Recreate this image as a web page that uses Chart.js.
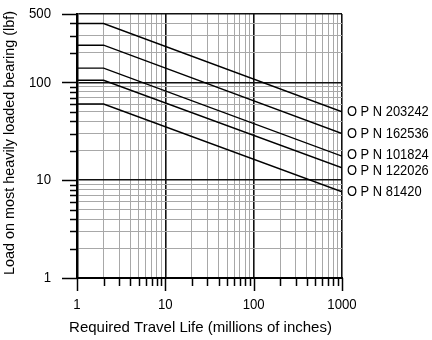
<!DOCTYPE html>
<html>
<head>
<meta charset="utf-8">
<script src="https://cdn.jsdelivr.net/npm/chart.js@4"></script>
<style>
  html, body { margin: 0; padding: 0; background: #fff; }
  #wrap { width: 432px; height: 340px; }
</style>
</head>
<body>
<div id="wrap"><canvas id="lifeChart" width="432" height="340"></canvas></div>
<script>
// travel life (millions of inches) where each curve bends
const lifeX = [1, 2, 1000];

// load (lbf) for each part number
const opn203242 = [400, 400, 50];
const opn162536 = [240, 240, 30];
const opn101824 = [140, 140, 17.6];
const opn122026 = [105, 105, 13.4];
const opn81420 = [60, 60, 7.6];

const seriesNames = ['O P N 203242', 'O P N 162536', 'O P N 101824', 'O P N 122026', 'O P N 81420'];
const seriesValues = [opn203242, opn162536, opn101824, opn122026, opn81420];

const xTicks = [1, 2, 3, 4, 5, 6, 7, 8, 9, 10, 20, 30, 40, 50, 60, 70, 80, 90,
    100, 200, 300, 400, 500, 600, 700, 800, 900, 1000];
const yTicks = [1, 2, 3, 4, 5, 6, 7, 8, 9, 10, 20, 30, 40, 50, 60, 70, 80, 90,
    100, 200, 300, 400, 500];
const xLabels = [1, 10, 100, 1000];
const yLabels = [1, 10, 100, 500];

const xTitle = 'Required Travel Life (millions of inches)';
const yTitle = 'Load on most heavily loaded bearing (lbf)';

const FONT = '"Liberation Sans", Arial, sans-serif';

const datasets = seriesValues.map((vals, i) => ({
    label: seriesNames[i],
    data: lifeX.map((x, j) => ({ x: x, y: vals[j] })),
    borderColor: '#000',
    borderWidth: 1.4,
    pointRadius: 0,
    showLine: true,
    tension: 0
}));

function isMajor(list) {
    return ctx => ctx.tick && list.includes(ctx.tick.value) && ctx.tick.value !== 1;
}
const xMajor = isMajor(xLabels), yMajor = isMajor(yLabels);

// draw condensed text (the original uses a narrow face)
function narrowText(c, str, x, y, sx, align) {
    c.save();
    c.translate(x, y);
    c.scale(sx, 1);
    c.textAlign = align;
    c.fillText(str, 0, 0);
    c.restore();
}

// tick marks outside the plot, tick labels, titles and curve names
const outsidePlugin = {
    id: 'outside',
    afterDraw(chart) {
        const c = chart.ctx;
        const area = chart.chartArea;
        const xs = chart.scales.x, ys = chart.scales.y;
        c.save();
        c.strokeStyle = '#000';
        c.lineWidth = 1.5;
        yTicks.forEach(v => {
            const p = Math.round(ys.getPixelForValue(v)) + 0.5;
            const len = yLabels.includes(v) ? 15 : 7;
            c.beginPath();
            c.moveTo(area.left - len, p);
            c.lineTo(area.left, p);
            c.stroke();
        });
        xTicks.forEach(v => {
            const p = Math.round(xs.getPixelForValue(v)) + 0.5;
            const len = xLabels.includes(v) ? 13 : 8;
            c.beginPath();
            c.moveTo(p, area.bottom);
            c.lineTo(p, area.bottom + len);
            c.stroke();
        });

        c.fillStyle = '#000';
        c.font = '15px ' + FONT;
        c.textBaseline = 'middle';
        yLabels.forEach(v => {
            narrowText(c, String(v), area.left - 26, ys.getPixelForValue(v), 0.88, 'right');
        });
        xLabels.forEach(v => {
            narrowText(c, String(v), xs.getPixelForValue(v), area.bottom + 27, 0.88, 'center');
        });

        narrowText(c, xTitle, (area.left + area.right) / 2 - 9, 328, 1.0, 'center');
        c.save();
        c.translate(10, 143);
        c.rotate(-Math.PI / 2);
        narrowText(c, yTitle, 0, 0, 0.96, 'center');
        c.restore();

        chart.data.datasets.forEach((ds, i) => {
            const meta = chart.getDatasetMeta(i);
            const last = meta.data[meta.data.length - 1];
            let y = last.y;
            if (i === 3) y += 3;
            if (i === 2) y -= 1;
            narrowText(c, ds.label, area.right + 5, y, 0.86, 'left');
        });
        c.restore();
    }
};

new Chart(document.getElementById('lifeChart'), {
    type: 'scatter',
    data: { datasets: datasets },
    plugins: [outsidePlugin],
    options: {
        responsive: false,
        animation: false,
        layout: { padding: { left: 0, top: 14, right: 90, bottom: 0 } },
        plugins: {
            legend: { display: false },
            tooltip: { enabled: false }
        },
        scales: {
            x: {
                type: 'logarithmic',
                min: 1,
                max: 1000,
                afterBuildTicks: s => { s.ticks = xTicks.map(v => ({ value: v })); },
                afterFit: s => { s.height = 62; },
                grid: {
                    color: ctx => xMajor(ctx) ? '#111' : '#a8a8a8',
                    lineWidth: ctx => xMajor(ctx) ? 1.6 : 1,
                    drawTicks: false
                },
                border: { color: '#000', width: 2 },
                ticks: { display: false }
            },
            y: {
                type: 'logarithmic',
                min: 1,
                max: 500,
                afterBuildTicks: s => { s.ticks = yTicks.map(v => ({ value: v })); },
                afterFit: s => { s.width = 77; },
                grid: {
                    color: ctx => yMajor(ctx) ? '#111' : '#a8a8a8',
                    lineWidth: ctx => yMajor(ctx) ? 1.6 : 1,
                    drawTicks: false
                },
                border: { color: '#000', width: 2.5 },
                ticks: { display: false }
            }
        }
    }
});
</script>
</body>
</html>
